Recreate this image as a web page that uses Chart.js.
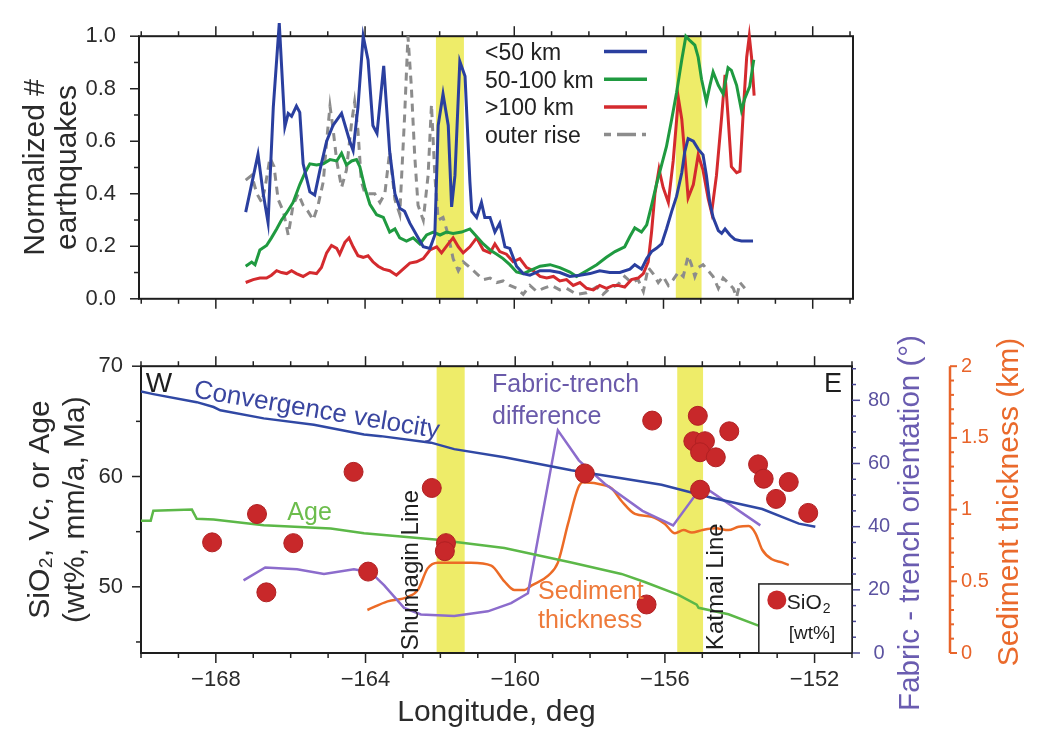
<!DOCTYPE html>
<html><head><meta charset="utf-8">
<script src="https://cdn.jsdelivr.net/npm/chart.js@4.4.1/dist/chart.umd.min.js"></script>
<style>
html,body{margin:0;padding:0;background:#fff;}
#wrap{position:relative;width:1040px;height:732px;overflow:hidden;background:#fff;}
#c1{position:absolute;left:0;top:0;width:1040px;height:335px;}
#c2{position:absolute;left:0;top:335px;width:1040px;height:397px;}
</style></head><body>
<div id="wrap">
<canvas id="c1" width="1040" height="335"></canvas>
<canvas id="c2" width="1040" height="397"></canvas>
</div>
<script>
// ---------- TOP PANEL: normalized number of earthquakes ----------
const lonShallow = [-167.2,-166.87,-166.73,-166.6,-166.46,-166.3,-166.15,-166.06,-165.97,-165.84,-165.75,-165.66,-165.48,-165.35,-165.21,-165.03,-164.86,-164.63,-164.41,-164.32,-164.19,-164.05,-163.92,-163.79,-163.68,-163.5,-163.34,-163.2,-163.07,-162.94,-162.8,-162.62,-162.44,-162.26,-162.13,-162.04,-161.91,-161.77,-161.68,-161.59,-161.46,-161.32,-161.19,-161.14,-161.01,-160.88,-160.79,-160.65,-160.52,-160.39,-160.25,-160.12,-159.94,-159.76,-159.58,-159.31,-159.04,-158.78,-158.51,-158.24,-157.97,-157.71,-157.44,-157.17,-156.9,-156.77,-156.59,-156.45,-156.32,-156.19,-156.05,-155.92,-155.78,-155.65,-155.51,-155.43,-155.34,-155.2,-155.07,-154.94,-154.85,-154.76,-154.67,-154.53,-154.44,-154.35,-154.22,-154.09,-153.91,-153.6];
const eqShallow = [0.33,0.55,0.40,0.29,0.73,1.05,0.655,0.706,0.695,0.734,0.71,0.514,0.407,0.395,0.49,0.60,0.66,0.706,0.60,0.565,0.73,1.0,0.91,0.66,0.63,0.887,0.56,0.40,0.345,0.333,0.288,0.243,0.198,0.192,0.243,0.66,0.78,0.66,0.35,0.47,0.904,0.847,0.446,0.333,0.31,0.367,0.31,0.31,0.254,0.288,0.198,0.192,0.124,0.096,0.09,0.107,0.107,0.10,0.085,0.09,0.096,0.107,0.10,0.10,0.113,0.13,0.113,0.153,0.18,0.192,0.209,0.266,0.333,0.39,0.48,0.56,0.61,0.60,0.57,0.548,0.47,0.367,0.31,0.26,0.249,0.266,0.243,0.226,0.22,0.22];

const lonMid = [-167.2,-167.04,-166.95,-166.82,-166.64,-166.51,-166.37,-166.24,-166.1,-165.93,-165.75,-165.61,-165.48,-165.3,-165.12,-164.94,-164.76,-164.63,-164.5,-164.36,-164.23,-164.14,-164.0,-163.87,-163.69,-163.51,-163.34,-163.2,-163.07,-162.89,-162.71,-162.53,-162.35,-162.17,-161.99,-161.82,-161.64,-161.41,-161.19,-161.01,-160.83,-160.65,-160.47,-160.3,-160.12,-159.94,-159.76,-159.58,-159.31,-159.04,-158.78,-158.51,-158.33,-158.06,-157.79,-157.53,-157.3,-157.04,-156.9,-156.77,-156.59,-156.45,-156.32,-156.19,-156.05,-155.92,-155.78,-155.65,-155.51,-155.4,-155.29,-155.16,-155.07,-154.98,-154.85,-154.76,-154.67,-154.53,-154.4,-154.27,-154.18,-154.04,-153.91,-153.82,-153.69,-153.58];
const eqMid = [0.124,0.14,0.13,0.186,0.203,0.232,0.266,0.30,0.328,0.367,0.435,0.48,0.514,0.51,0.514,0.53,0.525,0.554,0.51,0.525,0.53,0.503,0.42,0.36,0.32,0.31,0.254,0.266,0.232,0.22,0.232,0.209,0.243,0.254,0.243,0.254,0.249,0.254,0.266,0.237,0.209,0.186,0.17,0.153,0.13,0.102,0.096,0.107,0.124,0.13,0.119,0.102,0.085,0.107,0.13,0.158,0.18,0.198,0.237,0.27,0.254,0.282,0.356,0.435,0.51,0.58,0.684,0.785,0.91,1.0,0.983,0.966,0.92,0.836,0.75,0.81,0.864,0.813,0.78,0.88,0.87,0.813,0.717,0.763,0.808,0.91];

const lonDeep = [-167.2,-167.0,-166.82,-166.64,-166.51,-166.37,-166.24,-166.1,-165.97,-165.84,-165.66,-165.48,-165.3,-165.17,-165.03,-164.9,-164.76,-164.68,-164.54,-164.43,-164.32,-164.19,-164.05,-163.92,-163.79,-163.65,-163.51,-163.34,-163.16,-162.98,-162.8,-162.62,-162.44,-162.26,-162.08,-161.95,-161.77,-161.64,-161.5,-161.37,-161.19,-161.01,-160.83,-160.65,-160.52,-160.39,-160.21,-160.03,-159.85,-159.67,-159.49,-159.31,-159.13,-158.95,-158.78,-158.6,-158.42,-158.24,-158.06,-157.88,-157.71,-157.53,-157.35,-157.22,-157.04,-156.86,-156.68,-156.54,-156.41,-156.32,-156.23,-156.12,-156.01,-155.87,-155.74,-155.6,-155.51,-155.43,-155.34,-155.2,-155.07,-154.94,-154.8,-154.71,-154.58,-154.44,-154.35,-154.27,-154.18,-154.04,-153.95,-153.86,-153.77,-153.7,-153.64,-153.57];
const eqDeep = [0.062,0.073,0.079,0.079,0.09,0.107,0.10,0.096,0.107,0.096,0.085,0.10,0.096,0.119,0.175,0.203,0.192,0.17,0.215,0.232,0.198,0.164,0.158,0.164,0.141,0.124,0.113,0.107,0.09,0.113,0.136,0.141,0.153,0.186,0.198,0.175,0.209,0.232,0.198,0.175,0.198,0.232,0.186,0.175,0.209,0.18,0.17,0.141,0.153,0.119,0.107,0.085,0.079,0.085,0.068,0.073,0.051,0.062,0.04,0.034,0.051,0.04,0.051,0.051,0.045,0.073,0.079,0.096,0.141,0.254,0.40,0.494,0.424,0.367,0.525,0.763,0.684,0.548,0.384,0.435,0.548,0.49,0.38,0.328,0.47,0.695,0.853,0.695,0.503,0.48,0.486,0.717,0.92,1.0,0.92,0.774];

const lonOuter = [-167.2,-167.04,-166.9,-166.77,-166.68,-166.55,-166.44,-166.33,-166.19,-166.06,-165.93,-165.79,-165.66,-165.53,-165.39,-165.26,-165.12,-165.03,-164.94,-164.86,-164.76,-164.63,-164.5,-164.36,-164.28,-164.19,-164.1,-164.0,-163.87,-163.74,-163.6,-163.47,-163.34,-163.2,-163.07,-162.94,-162.85,-162.76,-162.67,-162.58,-162.44,-162.31,-162.22,-162.13,-162.04,-161.91,-161.77,-161.64,-161.5,-161.37,-161.19,-161.01,-160.83,-160.65,-160.47,-160.3,-160.12,-159.94,-159.76,-159.58,-159.4,-159.22,-159.0,-158.78,-158.6,-158.33,-158.06,-157.79,-157.62,-157.44,-157.26,-157.17,-157.04,-156.86,-156.68,-156.54,-156.41,-156.28,-156.14,-156.01,-155.87,-155.74,-155.6,-155.47,-155.34,-155.25,-155.16,-155.07,-154.94,-154.8,-154.67,-154.53,-154.4,-154.27,-154.13,-154.04,-153.95,-153.82];
const eqOuter = [0.452,0.47,0.40,0.367,0.424,0.537,0.503,0.378,0.333,0.243,0.356,0.40,0.356,0.333,0.30,0.356,0.446,0.60,0.734,0.65,0.525,0.424,0.49,0.672,0.75,0.64,0.446,0.40,0.40,0.40,0.367,0.40,0.56,0.378,0.322,0.695,1.0,0.81,0.548,0.356,0.30,0.47,0.74,0.47,0.30,0.31,0.243,0.153,0.107,0.141,0.119,0.096,0.073,0.079,0.062,0.068,0.051,0.04,0.017,0.051,0.028,0.04,0.051,0.034,0.04,0.017,0.023,0.045,0.017,0.04,0.051,0.062,0.085,0.062,0.073,0.028,0.119,0.096,0.062,0.085,0.051,0.073,0.102,0.085,0.164,0.13,0.085,0.119,0.13,0.107,0.085,0.04,0.079,0.062,0.04,0.006,0.062,0.04];

// ---------- Highlighted bands (longitude, deg) ----------
const bandWest = [-162.1, -155.67];
const bandEast = [-161.35, -154.98];

// ---------- BOTTOM PANEL ----------
const lonVc = [-170,-169.67,-168.51,-168.06,-167.88,-166.72,-165.38,-164.04,-163.59,-162.25,-161.63,-160.29,-158.5,-157.16,-156.09,-154.75,-153.4,-152.42,-151.98];
const valVc = [67.7,67.47,66.74,66.3,66.0,65.27,64.69,63.8,63.66,63.07,62.48,61.74,60.57,59.84,59.25,58.08,57.05,55.73,55.44];

const lonAge = [-170,-169.74,-169.67,-168.64,-168.51,-168.06,-166.72,-164.93,-164.04,-162.07,-160.29,-158.5,-157.16,-156.54,-155.64,-155.15,-155.1,-154.3,-153.5];
const valAge = [56.0,56.0,56.9,57.0,56.17,56.1,55.58,55.29,54.85,54.26,53.52,52.2,51.17,50.44,49.27,48.39,48.1,47.51,46.48];

const lonFabric = [-167.26,-166.68,-165.83,-165.11,-164.31,-163.86,-163.5,-162.97,-162.52,-161.63,-160.73,-160.11,-159.66,-158.86,-158.3,-157.6,-156.6,-155.78,-155.0,-153.45];
const valFabric = [23.0,27.1,26.5,25.0,26.5,25.5,21.4,14.3,12.2,11.7,13.2,15.8,18.9,70.5,61.0,53.5,45.0,40.4,53.0,40.4];

const lonSed = [-163.95,-163.41,-162.88,-162.6,-162.34,-162.07,-161.18,-160.64,-160.29,-160.02,-159.75,-159.57,-159.12,-158.86,-158.59,-158.32,-158.19,-157.61,-157.43,-157.16,-156.8,-156.35,-156.0,-155.73,-155.5,-155.28,-155.01,-154.65,-154.3,-154.03,-153.76,-153.58,-153.4,-153.14,-152.87,-152.69];
const valSed = [0.30,0.36,0.39,0.44,0.59,0.63,0.63,0.61,0.50,0.44,0.44,0.47,0.54,0.63,0.90,1.15,1.19,1.17,1.15,1.06,0.97,0.95,0.90,0.835,0.857,0.84,0.857,0.87,0.857,0.88,0.885,0.835,0.72,0.654,0.632,0.613];

const lonSiO2 = [-168.1,-166.9,-166.65,-165.93,-164.32,-163.93,-162.23,-161.85,-161.88,-158.14,-156.34,-156.49,-155.12,-154.28,-155.24,-154.93,-155.06,-154.64,-155.06,-153.51,-153.36,-152.69,-153.03,-152.17];
const valSiO2 = [54.03,56.6,49.5,53.96,60.42,51.38,58.96,53.96,53.23,60.28,65.07,48.4,65.5,64.1,63.2,63.2,62.2,61.74,58.8,61.1,59.8,59.5,57.97,56.7];

// ---------- Tick labels ----------
const lonTicks = [-168,-164,-160,-156,-152];
const eqTicks = [0,0.2,0.4,0.6,0.8,1.0];
const leftTicks = [50,60,70];
const fabricTicks = [0,20,40,60,80];
const sedTicks = [0,0.5,1,1.5,2];

// ---------- helpers ----------
const FONT = "'Liberation Sans', Arial, Helvetica, sans-serif";
Chart.defaults.font.family = FONT;
Chart.defaults.color = '#2b2b2b';

function pts(xs, ys){ return xs.map((x,i)=>({x:x, y:ys[i]})); }
function range(a, b, step){ const out=[]; const n=Math.round((b-a)/step); for(let i=0;i<=n;i++) out.push(+(a+i*step).toFixed(6)); return out; }
function seg(ctx,x1,y1,x2,y2){ ctx.beginPath(); ctx.moveTo(x1,y1); ctx.lineTo(x2,y2); ctx.stroke(); }
function isIn(v, arr){ return arr.some(m=>Math.abs(m-v)<1e-6); }

function drawXTicks(chart){
  const ctx = chart.ctx, a = chart.chartArea, s = chart.scales.x;
  ctx.save(); ctx.strokeStyle='#222'; ctx.lineWidth=1.5;
  range(-170,-151,1).forEach(v=>{
    if (v < s.min-1e-9 || v > s.max+1e-9) return;
    const p = s.getPixelForValue(v);
    const L = isIn(v, lonTicks) ? 10 : 5;
    seg(ctx,p,a.top,p,a.top-L);
    seg(ctx,p,a.bottom,p,a.bottom+L);
  });
  ctx.restore();
}
function drawYTicks(ctx, scale, vals, majors, x0, dir, color, Lmaj, Lmin, lw){
  ctx.save(); ctx.strokeStyle=color; ctx.lineWidth=lw||1.5;
  vals.forEach(v=>{
    const p = scale.getPixelForValue(v);
    const L = isIn(v, majors) ? Lmaj : Lmin;
    seg(ctx,x0,p,x0+dir*L,p);
  });
  ctx.restore();
}
function bandsAndFrame(chart){
  const ctx = chart.ctx, a = chart.chartArea, x = chart.scales.x;
  ctx.save();
  ctx.fillStyle = 'rgb(238,236,105)';
  bandWest.forEach((w,i)=>{
    const x1 = x.getPixelForValue(w), x2 = x.getPixelForValue(bandEast[i]);
    ctx.fillRect(x1, a.top, x2-x1, a.bottom-a.top);
  });
  ctx.strokeStyle = '#1e1e1e'; ctx.lineWidth = 2;
  ctx.strokeRect(a.left, a.top, a.right-a.left, a.bottom-a.top);
  ctx.restore();
}

const noGrid = {display:false, drawTicks:false};
const noBorder = {display:false};

// ---------- TOP CHART ----------
const topPlugin = {
  id:'topDeco',
  beforeDatasetsDraw(chart){
    bandsAndFrame(chart);
    drawXTicks(chart);
    drawYTicks(chart.ctx, chart.scales.y, range(0,1,0.1), eqTicks, chart.chartArea.left, -1, '#222', 9, 5);
  },
  afterDraw(chart){
    const ctx = chart.ctx;
    ctx.save();
    ctx.font = '23px ' + FONT; ctx.textBaseline='alphabetic'; ctx.textAlign='left';
    chart.data.datasets.forEach((ds,i)=>{
      const yb = 60 + i*27.7;
      ctx.fillStyle = '#222';
      ctx.fillText(ds.label, 485, yb);
      ctx.strokeStyle = ds.borderColor; ctx.lineWidth = 3.5;
      if (ds.borderDash){ ctx.setLineDash([7,6,19,6,4,60]); } else { ctx.setLineDash([]); }
      seg(ctx, 604, yb-8.5, 647, yb-8.5);
    });
    ctx.restore();
  }
};

new Chart(document.getElementById('c1'), {
  type:'scatter',
  data:{datasets:[
    {label:'<50 km', data:pts(lonShallow,eqShallow), showLine:true, pointRadius:0, borderColor:'#2a3f9f', borderWidth:3, clip:false},
    {label:'50-100 km', data:pts(lonMid,eqMid), showLine:true, pointRadius:0, borderColor:'#1f9a40', borderWidth:3, clip:false},
    {label:'>100 km', data:pts(lonDeep,eqDeep), showLine:true, pointRadius:0, borderColor:'#d42a2e', borderWidth:3, clip:false},
    {label:'outer rise', data:pts(lonOuter,eqOuter), showLine:true, pointRadius:0, borderColor:'#8c8c8c', borderWidth:3, borderDash:[8,6], clip:false}
  ]},
  options:{
    responsive:false, animation:false, events:[],
    layout:{padding:{top:26,right:187,left:0,bottom:0}, autoPadding:false},
    plugins:{legend:{display:false}, tooltip:{enabled:false}},
    scales:{
      x:{type:'linear', position:'bottom', min:-170.06, max:-150.92, grid:noGrid, border:noBorder,
         ticks:{display:false}, afterBuildTicks:s=>{s.ticks = lonTicks.map(v=>({value:v}));}, afterFit:s=>{s.height=15;}},
      y:{type:'linear', position:'left', min:0, max:1, grid:noGrid, border:noBorder,
         ticks:{font:{size:22}, padding:23, color:'#2b2b2b', callback:v=>Number(v).toFixed(1)},
         afterBuildTicks:s=>{s.ticks = eqTicks.map(v=>({value:v}));},
         title:{display:true, text:['Normalized #','earthquakes'], font:{size:30, lineHeight:1.07}, padding:{top:20,bottom:0}, color:'#2b2b2b'},
         afterFit:s=>{s.width=139;}}
    }
  },
  plugins:[topPlugin]
});

// ---------- BOTTOM CHART ----------
function txt(ctx, s, x, y, font, color, align, rot){
  ctx.save(); ctx.translate(x,y); if (rot) ctx.rotate(rot);
  ctx.font = font; ctx.fillStyle = color; ctx.textAlign = align||'left'; ctx.textBaseline='alphabetic';
  ctx.fillText(s,0,0); ctx.restore();
}
const botPlugin = {
  id:'botDeco',
  beforeDatasetsDraw(chart){
    const ctx = chart.ctx, a = chart.chartArea, sc = chart.scales;
    bandsAndFrame(chart);
    drawXTicks(chart);
    drawYTicks(ctx, sc.y, range(45,70,5), leftTicks, a.left, -1, '#222', 9, 5);
    drawYTicks(ctx, sc.yF, range(0,90,5), fabricTicks, a.right, 1, '#4b4895', 8, 4);
    const xs = sc.yS.left;
    ctx.save(); ctx.strokeStyle='#e8642a'; ctx.lineWidth=2.5;
    seg(ctx, xs, a.top, xs, a.bottom); ctx.restore();
    drawYTicks(ctx, sc.yS, range(0,2,0.1), sedTicks, xs, 1, '#e8642a', 7, 4, 2);
  },
  afterDatasetsDraw(chart){
    const ctx = chart.ctx, a = chart.chartArea, x = chart.scales.x, y = chart.scales.y;
    const X = v=>x.getPixelForValue(v), Y = v=>y.getPixelForValue(v);
    txt(ctx,'W', X(-169.87), Y(67.62), '28px '+FONT, '#1e1e1e');
    txt(ctx,'E', X(-151.27), Y(67.62), '27px '+FONT, '#1e1e1e', 'right');
    txt(ctx,'Convergence velocity', X(-168.61), Y(67.18), '26px '+FONT, '#3a46a0', 'left', 9.5*Math.PI/180);
    txt(ctx,'Age', X(-166.09), Y(56.07), '25px '+FONT, '#6cbd4c');
    txt(ctx,'Fabric-trench', X(-160.62), Y(67.62), '25px '+FONT, '#6a5aaa');
    txt(ctx,'difference', X(-160.62), Y(64.8), '25px '+FONT, '#6a5aaa');
    txt(ctx,'Sediment', X(-159.39), Y(48.94), '25px '+FONT, '#ee7a3a');
    txt(ctx,'thickness', X(-159.39), Y(46.29), '25px '+FONT, '#ee7a3a');
    txt(ctx,'Shumagin Line', X(-162.6), Y(44.26), '24px '+FONT, '#1e1e1e', 'left', -Math.PI/2);
    txt(ctx,'Katmai Line', X(-154.46), Y(44.26), '24px '+FONT, '#1e1e1e', 'left', -Math.PI/2);
    const bx = X(-153.49), by = Y(50.26);
    ctx.save();
    ctx.fillStyle='#fff'; ctx.fillRect(bx, by, a.right-bx, a.bottom-by);
    ctx.strokeStyle='#1e1e1e'; ctx.lineWidth=1.5; ctx.strokeRect(bx, by, a.right-bx, a.bottom-by);
    ctx.fillStyle='#c8282a'; ctx.beginPath(); ctx.arc(bx+18, by+16, 9.5, 0, Math.PI*2); ctx.fill();
    ctx.restore();
    txt(ctx,'SiO', bx+28, by+25, '21px '+FONT, '#1e1e1e');
    ctx.save(); ctx.font='21px '+FONT; const w = ctx.measureText('SiO').width; ctx.restore();
    txt(ctx,'2', bx+28+w+1, by+29, '14px '+FONT, '#1e1e1e');
    txt(ctx,'[wt%]', bx+30, by+55, '19px '+FONT, '#1e1e1e');
  },
  afterDraw(chart){
    const sc = chart.scales, ctx = chart.ctx;
    const cy1 = 523 - 335, cy2 = 502 - 335;
    ctx.save();
    ctx.textAlign='center'; ctx.textBaseline='middle';
    ctx.translate(911, cy1); ctx.rotate(-Math.PI/2);
    ctx.font='29.5px '+FONT; ctx.fillStyle='#6a5cb0';
    ctx.fillText(sc.yF.options.title.text, 0, 0);
    ctx.restore();
    ctx.save();
    ctx.textAlign='center'; ctx.textBaseline='middle';
    ctx.translate(1010, cy2); ctx.rotate(-Math.PI/2);
    ctx.font='30px '+FONT; ctx.fillStyle='#ea6a2c';
    ctx.fillText(sc.yS.options.title.text, 0, 0);
    ctx.restore();
  }
};

new Chart(document.getElementById('c2'), {
  type:'scatter',
  data:{datasets:[
    {label:'SiO₂ [wt%]', data:pts(lonSiO2,valSiO2), yAxisID:'y', showLine:false, pointRadius:9.5, pointBackgroundColor:'#c8282a', pointBorderColor:'#b02022', pointBorderWidth:1},
    {label:'Convergence velocity', data:pts(lonVc,valVc), yAxisID:'y', showLine:true, pointRadius:0, borderColor:'#3048a4', borderWidth:2.5},
    {label:'Age', data:pts(lonAge,valAge), yAxisID:'y', showLine:true, pointRadius:0, borderColor:'#5cb848', borderWidth:2.5},
    {label:'Fabric-trench difference', data:pts(lonFabric,valFabric), yAxisID:'yF', showLine:true, pointRadius:0, borderColor:'#8c6ccc', borderWidth:2.5},
    {label:'Sediment thickness', data:pts(lonSed,valSed), yAxisID:'yS', showLine:true, pointRadius:0, borderColor:'#ec6b26', borderWidth:2.5, cubicInterpolationMode:'monotone'}
  ]},
  options:{
    responsive:false, animation:false, events:[],
    layout:{padding:{top:23,right:0,left:0,bottom:0}, autoPadding:false},
    plugins:{legend:{display:false}, tooltip:{enabled:false}},
    scales:{
      x:{type:'linear', position:'bottom', min:-170, max:-151, grid:noGrid, border:noBorder,
         ticks:{font:{size:22}, padding:14, color:'#2b2b2b', maxRotation:0, callback:v=>'\u2212'+Math.abs(v)},
         afterBuildTicks:s=>{s.ticks = lonTicks.map(v=>({value:v}));},
         title:{display:true, text:'Longitude, deg', font:{size:30}, padding:{top:0,bottom:1}, color:'#2b2b2b'},
         afterFit:s=>{s.height=79;}},
      y:{type:'linear', position:'left', min:44, max:70, grid:noGrid, border:noBorder,
         ticks:{font:{size:22}, padding:18, color:'#2b2b2b'},
         afterBuildTicks:s=>{s.ticks = leftTicks.map(v=>({value:v}));},
         title:{display:true, text:['SiO\u2082, Vc, or Age','(wt%, mm/a, Ma)'], font:{size:30, lineHeight:1.167}, padding:{top:23,bottom:0}, color:'#2b2b2b'},
         afterFit:s=>{s.width=141;}},
      yF:{type:'linear', position:'right', weight:1, min:0, max:90.8, grid:noGrid, border:noBorder,
         ticks:{font:{size:20}, padding:16, crossAlign:'center', color:'#5b52a0'},
         afterBuildTicks:s=>{s.ticks = fabricTicks.map(v=>({value:v}));},
         title:{display:false, text:'Fabric - trench orientation (\u00B0)'},
         afterFit:s=>{s.width=98;}},
      yS:{type:'linear', position:'right', weight:2, min:0, max:2, grid:noGrid, border:noBorder,
         ticks:{font:{size:20}, padding:11, color:'#e8642a', callback:v=>String(v)},
         afterBuildTicks:s=>{s.ticks = sedTicks.map(v=>({value:v}));},
         title:{display:false, text:'Sediment thickness (km)'},
         afterFit:s=>{s.width=90;}}
    }
  },
  plugins:[botPlugin]
});
</script>
</body></html>
